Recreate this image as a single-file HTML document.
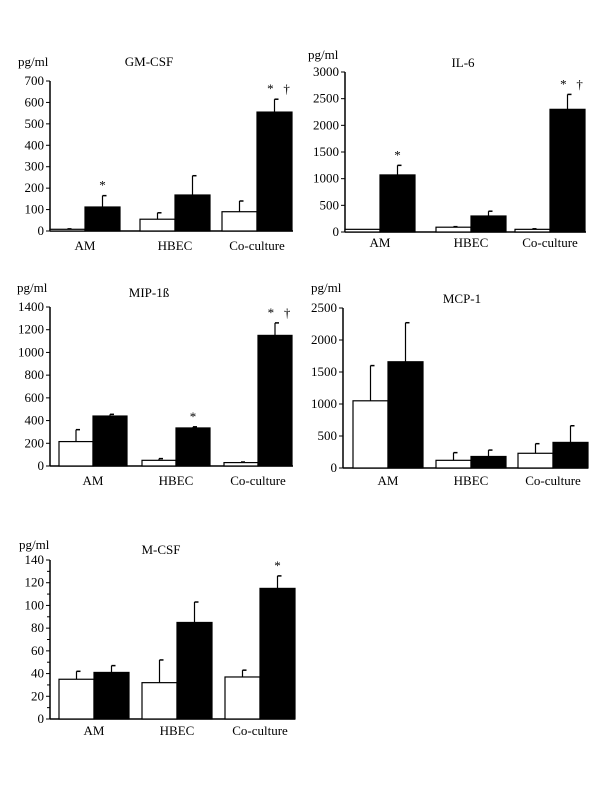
<!DOCTYPE html>
<html><head><meta charset="utf-8"><style>
html,body{margin:0;padding:0;background:#fff;width:600px;height:800px;overflow:hidden}
svg text{font-family:"Liberation Serif",serif;fill:#000}
</style></head><body>
<svg id="fig" width="600" height="800" viewBox="0 0 600 800" xmlns="http://www.w3.org/2000/svg"></svg>
<script>
const categories = ["AM","HBEC","Co-culture"];
const gmWhite = [8,55,90], gmWhiteErr = [10,85,140], gmBlack = [112,168,555], gmBlackErr = [165,258,615];
const gmTicks = [0,100,200,300,400,500,600,700];
const ilWhite = [50,90,50], ilWhiteErr = [50,100,60], ilBlack = [1070,300,2300], ilBlackErr = [1250,390,2580];
const ilTicks = [0,500,1000,1500,2000,2500,3000];
const mipWhite = [215,50,30], mipWhiteErr = [320,65,35], mipBlack = [440,335,1150], mipBlackErr = [455,345,1260];
const mipTicks = [0,200,400,600,800,1000,1200,1400];
const mcpWhite = [1050,120,230], mcpWhiteErr = [1600,240,380], mcpBlack = [1660,180,400], mcpBlackErr = [2270,280,660];
const mcpTicks = [0,500,1000,1500,2000,2500];
const mcsfWhite = [35,32,37], mcsfWhiteErr = [42,52,43], mcsfBlack = [41,85,115], mcsfBlackErr = [47,103,126];
const mcsfTicks = [0,20,40,60,80,100,120,140];
const gmMarks = ["*","","*   †"], ilMarks = ["*","","*   †"], mipMarks = ["","*","*   †"], mcpMarks = ["","",""], mcsfMarks = ["","","*"];

const svg = document.getElementById('fig');
const NS = "http://www.w3.org/2000/svg";
function mk(tag, attrs, parent){ const e=document.createElementNS(NS,tag); for(const k in attrs) e.setAttribute(k,attrs[k]); (parent||svg).appendChild(e); return e; }

function panel(cfg){
  const g = mk('g',{});
  
  
  const max = cfg.ticks[cfg.ticks.length-1];
  const y = v => cfg.y0 - (v/max)*(cfg.y0-cfg.yTop);
  const ya = mk('line',{x1:cfg.ax,y1:cfg.yTop,x2:cfg.ax,y2:cfg.y0,stroke:'#000','stroke-width':1.5},g);
  
  
  const xa = mk('line',{x1:cfg.ax,y1:cfg.y0,x2:cfg.axEnd,y2:cfg.y0,stroke:'#000','stroke-width':1.5},g);
  
  
  cfg.ticks.forEach((t,i)=>{
    mk('line',{x1:cfg.ax-4,y1:y(t),x2:cfg.ax,y2:y(t),stroke:'#000','stroke-width':1},g);
    const tl = mk('text',{x:cfg.ax-6,y:y(t)+4,'text-anchor':'end','font-size':13},g);
    tl.textContent = t;
    
    
    if(cfg.minor && i<cfg.ticks.length-1){
      const mv=(t+cfg.ticks[i+1])/2;
      mk('line',{x1:cfg.ax-3,y1:y(mv),x2:cfg.ax,y2:y(mv),stroke:'#000','stroke-width':1},g);
    }
  });
  const un = mk('text',{x:cfg.unitX,y:cfg.unitY,'font-size':13},g);
  un.textContent='pg/ml';
  
  
  const ti = mk('text',{x:cfg.titleX,y:cfg.titleY,'text-anchor':'middle','font-size':13},g);
  ti.textContent=cfg.title;
  
  
  categories.forEach((c,i)=>{
    const xw = cfg.groupX[i], bw = cfg.bw;
    [[cfg.white,cfg.whiteErr,'#fff',xw,'white'],[cfg.black,cfg.blackErr,'#000',xw+bw,'black']].forEach(s=>{
      const v=s[0][i], e=s[1][i], x=s[3];
      const cx = x+bw/2;
      if(e>v){
        mk('line',{x1:cx,y1:y(v),x2:cx,y2:y(e),stroke:'#000','stroke-width':1.2},g);
        mk('line',{x1:cx,y1:y(e),x2:cx+4,y2:y(e),stroke:'#000','stroke-width':1.5},g);
      }
      const r = mk('rect',{x:x,y:y(v),width:bw,height:cfg.y0-y(v),fill:s[2],stroke:'#000','stroke-width':1.2},g);
      
      
    });
    const m = cfg.marks[i];
    if(m){
      const mt = mk('text',{x:xw+bw*1.5+(m.length>1?4:0),y:y(cfg.blackErr[i])-6,'text-anchor':'middle','font-size':13,'xml:space':'preserve'},g);
      mt.setAttribute('style','white-space:pre');
      mt.textContent=m;
      
      
    }
    const cl = mk('text',{x:xw+bw,y:cfg.labelY,'text-anchor':'middle','font-size':13},g);
    cl.textContent=c;
    
    
  });
}
panel({id:'gm-csf',title:'GM-CSF',ax:50,axEnd:293,yTop:81,y0:231,ticks:gmTicks,groupX:[50,140,222],bw:35,white:gmWhite,whiteErr:gmWhiteErr,black:gmBlack,blackErr:gmBlackErr,marks:gmMarks,unitX:18,unitY:66,titleX:149,titleY:66,labelY:250});
panel({id:'il-6',title:'IL-6',ax:345,axEnd:586,yTop:72,y0:232,ticks:ilTicks,groupX:[345,436,515],bw:35,white:ilWhite,whiteErr:ilWhiteErr,black:ilBlack,blackErr:ilBlackErr,marks:ilMarks,unitX:308,unitY:59,titleX:463,titleY:67,labelY:247});
panel({id:'mip-1b',title:'MIP-1ß',ax:50,axEnd:293,yTop:307,y0:466,ticks:mipTicks,groupX:[59,142,224],bw:34,white:mipWhite,whiteErr:mipWhiteErr,black:mipBlack,blackErr:mipBlackErr,marks:mipMarks,unitX:17,unitY:292,titleX:149,titleY:297,labelY:485});
panel({id:'mcp-1',title:'MCP-1',ax:343,axEnd:588,yTop:308,y0:468,ticks:mcpTicks,groupX:[353,436,518],bw:35,white:mcpWhite,whiteErr:mcpWhiteErr,black:mcpBlack,blackErr:mcpBlackErr,marks:mcpMarks,unitX:311,unitY:292,titleX:462,titleY:303,labelY:485});
panel({id:'m-csf',title:'M-CSF',ax:50,axEnd:295,yTop:560,y0:719,ticks:mcsfTicks,minor:true,groupX:[59,142,225],bw:35,white:mcsfWhite,whiteErr:mcsfWhiteErr,black:mcsfBlack,blackErr:mcsfBlackErr,marks:mcsfMarks,unitX:19,unitY:549,titleX:161,titleY:554,labelY:735});
</script>
</body></html>
